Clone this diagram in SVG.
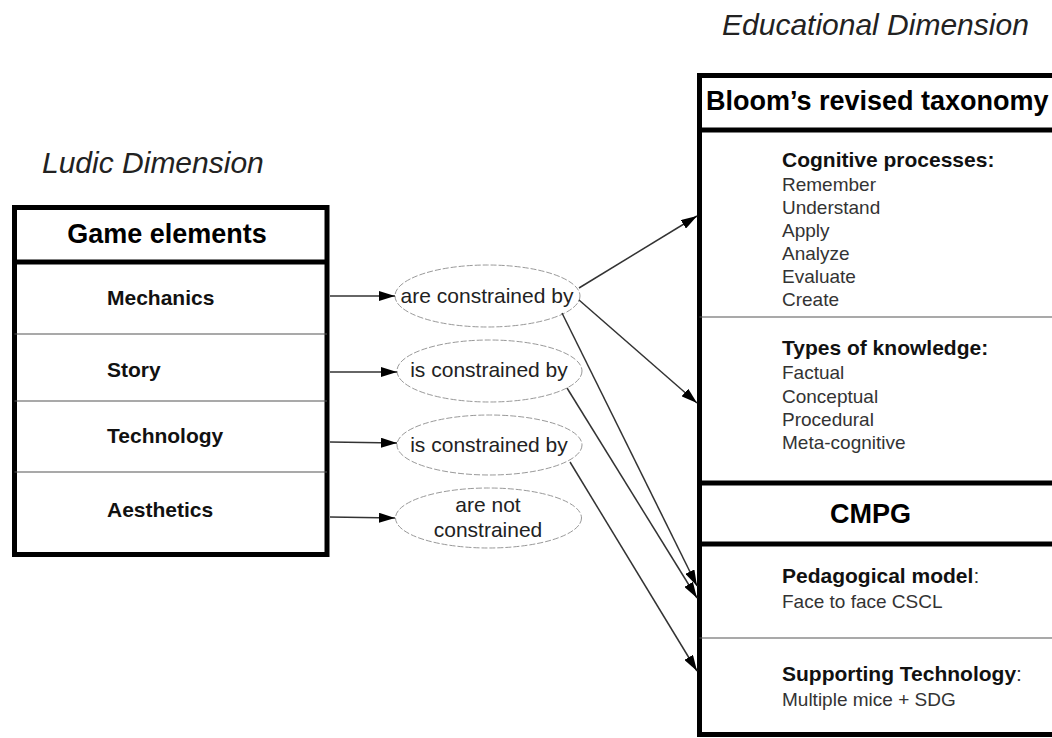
<svg xmlns="http://www.w3.org/2000/svg" width="1052" height="738" viewBox="0 0 1052 738">
<defs>
<style>
text{font-family:"Liberation Sans",Arial,sans-serif;}
.title{font-size:30px;font-style:italic;fill:#222;}
.hdr{font-size:27px;font-weight:bold;fill:#000;}
.item{font-size:21px;font-weight:bold;fill:#111;}
.sub{font-size:21px;font-weight:bold;fill:#111;}
.val{font-size:19px;fill:#333;}
.lbl{font-size:21px;fill:#222;text-anchor:middle;}
.box{fill:#fff;stroke:#000;stroke-width:5;}
.thick{stroke:#000;stroke-width:5;}
.thin{stroke:#555;stroke-width:1.2;}
.ell{fill:#fff;stroke:#999;stroke-width:1;stroke-dasharray:6 2;}
.conn{stroke:#333;stroke-width:1.5;fill:none;marker-end:url(#arr);}
</style>
<marker id="arr" viewBox="0 0 16 10" refX="16" refY="5" markerWidth="16" markerHeight="10" markerUnits="userSpaceOnUse" orient="auto">
<path d="M0,0 L16,5 L0,10 z" fill="#000"/>
</marker>
</defs>
<rect width="1052" height="738" fill="#fff"/>

<text class="title" x="42" y="173">Ludic Dimension</text>
<text class="title" x="722" y="35">Educational Dimension</text>

<g id="game-elements">
<rect class="box" x="14.5" y="207.5" width="312.5" height="347"/>
<line class="thick" x1="14.5" y1="262" x2="327" y2="262"/>
<line class="thin" x1="14.5" y1="334" x2="327" y2="334"/>
<line class="thin" x1="14.5" y1="401" x2="327" y2="401"/>
<line class="thin" x1="14.5" y1="472" x2="327" y2="472"/>
<text class="hdr" x="167" y="243" text-anchor="middle">Game elements</text>
<text class="item" x="107" y="305">Mechanics</text>
<text class="item" x="107" y="377">Story</text>
<text class="item" x="107" y="443">Technology</text>
<text class="item" x="107" y="517">Aesthetics</text>
</g>

<g id="bloom">
<rect class="box" x="699.5" y="75.5" width="400" height="659"/>
<line class="thick" x1="699.5" y1="130" x2="1060" y2="130"/>
<line class="thin" x1="699.5" y1="317" x2="1060" y2="317"/>
<text class="hdr" x="706" y="110">Bloom’s revised taxonomy</text>
<text class="sub" x="782" y="167">Cognitive processes:</text>
<text class="val" x="782" y="191">Remember</text>
<text class="val" x="782" y="214">Understand</text>
<text class="val" x="782" y="237">Apply</text>
<text class="val" x="782" y="260">Analyze</text>
<text class="val" x="782" y="283">Evaluate</text>
<text class="val" x="782" y="306">Create</text>
<text class="sub" x="782" y="355">Types of knowledge:</text>
<text class="val" x="782" y="379">Factual</text>
<text class="val" x="782" y="403">Conceptual</text>
<text class="val" x="782" y="426">Procedural</text>
<text class="val" x="782" y="449">Meta-cognitive</text>
</g>

<g id="cmpg">
<line class="thick" x1="699.5" y1="483" x2="1060" y2="483"/>
<line class="thick" x1="699.5" y1="544" x2="1060" y2="544"/>
<line class="thin" x1="699.5" y1="638" x2="1060" y2="638"/>
<text class="hdr" x="830" y="523">CMPG</text>
<text x="782" y="583"><tspan class="sub">Pedagogical model</tspan><tspan class="val" style="font-size:21px">:</tspan></text>
<text class="val" x="782" y="608">Face to face CSCL</text>
<text x="782" y="681"><tspan class="sub">Supporting Technology</tspan><tspan class="val" style="font-size:21px">:</tspan></text>
<text class="val" x="782" y="706">Multiple mice + SDG</text>
</g>

<g id="rel-mechanics">
<ellipse class="ell" cx="487.5" cy="296" rx="92.5" ry="31"/>
<text class="lbl" x="487" y="303">are constrained by</text>
</g>
<g id="rel-story">
<ellipse class="ell" cx="489.5" cy="371" rx="92.5" ry="31"/>
<text class="lbl" x="489" y="377">is constrained by</text>
</g>
<g id="rel-technology">
<ellipse class="ell" cx="489.5" cy="445" rx="92.5" ry="30"/>
<text class="lbl" x="489" y="452">is constrained by</text>
</g>
<g id="rel-aesthetics">
<ellipse class="ell" cx="488.5" cy="518" rx="93" ry="30"/>
<text class="lbl" x="488" y="512">are not</text>
<text class="lbl" x="488" y="537">constrained</text>
</g>

<g id="connectors">
<line class="conn" x1="330" y1="296" x2="395" y2="296"/>
<line class="conn" x1="330" y1="372" x2="397" y2="372"/>
<line class="conn" x1="330" y1="442" x2="397" y2="443"/>
<line class="conn" x1="330" y1="517" x2="395" y2="518"/>
<line class="conn" x1="579" y1="288" x2="697" y2="216"/>
<line class="conn" x1="579" y1="300" x2="697" y2="403"/>
<line class="conn" x1="562" y1="313" x2="697" y2="586"/>
<line class="conn" x1="567" y1="388" x2="697" y2="598"/>
<line class="conn" x1="570" y1="462" x2="697" y2="671"/>
</g>
</svg>
